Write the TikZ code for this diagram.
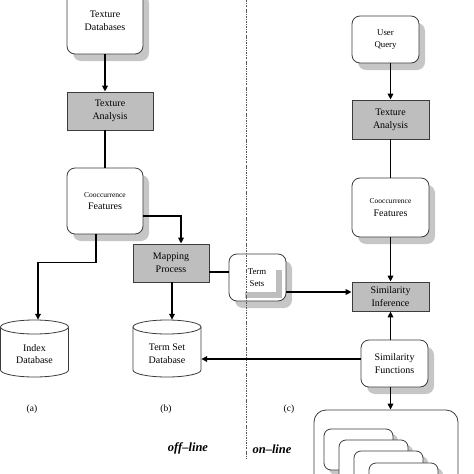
\documentclass[tikz,border=0pt]{standalone}
\usepackage{fontspec}
\setmainfont{Liberation Serif}
\usetikzlibrary{arrows.meta,shadows,calc}
\definecolor{boxgray}{RGB}{190,190,190}
\definecolor{shgray}{RGB}{198,198,198}
\definecolor{edge}{RGB}{60,60,60}
\begin{document}
\begin{tikzpicture}[x=1pt,y=-1pt,
  txt/.style={font=\fontsize{10}{12.8}\selectfont,align=center,inner sep=0pt},
  rbox/.style={txt,draw=edge,line width=0.8pt,fill=white,rounded corners=8pt,
    drop shadow={shadow xshift=6pt,shadow yshift=-7pt,fill=shgray,opacity=1}},
  gbox/.style={txt,draw=edge,line width=0.8pt,fill=boxgray},
  plain/.style={txt},
  conn/.style={line width=1.6pt,black},
  arr/.style={conn,-{Triangle[length=6pt,width=5.5pt]}},
  lbl/.style={font=\fontsize{9.5}{11}\selectfont,inner sep=0pt},
  big/.style={font=\fontsize{12.5}{14}\selectfont\bfseries\itshape,inner sep=0pt}
]
\useasboundingbox (0,0) rectangle (474,474);
\clip (0,0) rectangle (474,474);

% left column
\node[rbox,minimum width=76pt,minimum height=66pt] (tdb) at (105,21) {Texture\\Databases};
\node[gbox,minimum width=86pt,minimum height=38pt] (ta1) at (110,111) {Texture\\Analysis};
\node[rbox,minimum width=76pt,minimum height=66pt] (cf1) at (105,201)
  {{\fontsize{7.5}{9}\selectfont Cooccurrence}\\Features};
\node[gbox,minimum width=76pt,minimum height=38pt] (map) at (171,263) {Mapping\\Process};
\node[rbox,minimum width=57pt,minimum height=47pt] (ts) at (257.5,277.5) {};
\fill[boxgray] (276,270) rectangle (282,298);
\fill[boxgray] (245,292) rectangle (282,298);
\node[txt,font=\fontsize{8.8}{11.5}\selectfont] (tst) at (257,277.5) {Term\\Sets};

% cylinders
\draw[edge,line width=0.8pt,fill=white] (0.5,327) -- (0.5,370)
  arc[start angle=180,end angle=0,x radius=34,y radius=7] -- (68.5,327);
\draw[edge,line width=0.8pt,fill=white] (34.5,327) ellipse [x radius=34,y radius=7];
\node[plain,minimum width=68pt,minimum height=57pt] (idx) at (34.5,348.5) {};
\node[txt] (idxt) at (34.5,354) {Index\\Database};

\draw[edge,line width=0.8pt,fill=white] (133,327) -- (133,370)
  arc[start angle=180,end angle=0,x radius=34,y radius=7] -- (201,327);
\draw[edge,line width=0.8pt,fill=white] (167,327) ellipse [x radius=34,y radius=7];
\node[plain,minimum width=68pt,minimum height=57pt] (tsdb) at (167,348.5) {};
\node[txt] (tsdbt) at (167,354) {Term Set\\Database};

% right column
\node[rbox,minimum width=67pt,minimum height=47pt,font=\fontsize{8.8}{12}\selectfont] (uq) at (385.5,39.5) {User\\Query};
\node[gbox,minimum width=77pt,minimum height=39pt] (ta2) at (390.5,119.5) {Texture\\Analysis};
\node[rbox,minimum width=77pt,minimum height=59pt] (cf2) at (390.5,207.5)
  {{\fontsize{7.5}{9}\selectfont Cooccurrence}\\Features};
\node[gbox,minimum width=77pt,minimum height=29pt] (si) at (390.5,296.5) {Similarity\\Inference};
\node[rbox,minimum width=67pt,minimum height=47pt] (sf) at (394.5,363.5) {Similarity\\Functions};

% bottom stacked box
\node[draw=edge,line width=0.8pt,fill=white,rounded corners=12pt,minimum width=144pt,minimum height=90pt,inner sep=0pt] (bigb) at (386,455) {};
\foreach \i/\dx/\dy in {1/0/0,2/15/11,3/30/22,4/45/34}{
  \node[draw=edge,line width=0.8pt,fill=white,rounded corners=7pt,minimum width=69pt,minimum height=41pt,inner sep=0pt,
    drop shadow={shadow xshift=5pt,shadow yshift=-5pt,fill=shgray,opacity=1}] (st\i) at (358.5+\dx,449.5+\dy) {};
}

% divider
\coordinate (d1) at (246,0);
\coordinate (d2) at (246,459);
\draw[black!65,line width=0.5pt,dash pattern=on 2.2pt off 1.2pt on 0.6pt off 1.2pt] (d1) -- (d2);

% connectors left
\draw[arr] (tdb.south) -- (tdb.south |- ta1.north);
\draw[conn] (tdb.south |- ta1.south) -- (cf1.north);
\coordinate (c1) at ($(cf1.east)+(0,15)$);
\draw[arr] (c1) -| ($(map.north)+(10,0)$);
\draw[arr] ($(cf1.south)+(-9,0)$) -- ++(0,28) -| ($(idx.north)+(3.5,0)$);
\draw[arr] ($(map.south)+(1,0)$) -- ($(map.south |- tsdb.north)+(1,0)$);
\coordinate (m1) at ($(map.east)+(0,9)$);
\draw[conn] (m1) -- (m1 -| ts.west);
\coordinate (t1) at ($(ts.east)+(0,14.5)$);
\draw[arr] (t1) -- (t1 -| si.west);

% connectors right
\draw[arr] (ta2.north |- uq.south) -- (ta2.north);
\draw[conn] (ta2.south) -- (cf2.north);
\draw[arr] (cf2.south) -- (si.north);
\draw[arr] (si.south |- sf.north) -- (si.south);
\coordinate (f1) at ($(sf.west)+(0,-4.5)$);
\draw[arr] (f1) -- (f1 -| tsdb.east);
\draw[arr] (si.south |- sf.south) -- (si.south |- bigb.north);

% labels
\node[lbl] (la) at (32,409) {(a)};
\node[lbl] (lb) at (166,409) {(b)};
\node[lbl] (lc) at (289,409) {(c)};
\node[big] (off) at (188,448) {off--line};
\node[big] (on) at (272,449) {on--line};
\end{tikzpicture}
\end{document}
